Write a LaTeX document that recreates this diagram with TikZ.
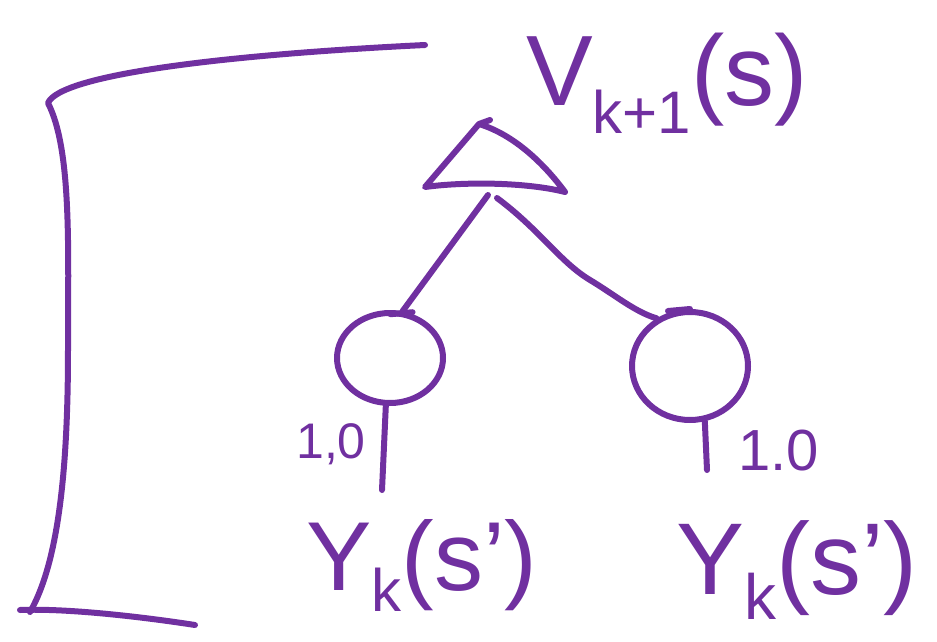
\documentclass[tikz,border=0pt]{standalone}
\usepackage{fontspec}
\setmainfont{Liberation Sans}
\usetikzlibrary{shapes.geometric}
\definecolor{ink}{HTML}{7030A0}
\tikzset{
  pen/.style={draw=ink, line width=6pt, line cap=round, line join=round},
  bubble/.style={pen, ellipse, inner sep=0pt},
  lbl/.style={text=ink, inner sep=0pt, anchor=base west},
}
\newcommand{\subk}[2]{\raisebox{#1}{\fontsize{#2}{#2}\selectfont k}}
\begin{document}
\begin{tikzpicture}[x=1pt,y=1pt]
\useasboundingbox (0,0) rectangle (937,-642);
% bracket
\coordinate (bt) at (425,-45);
\coordinate (bc) at (48,-103);
\coordinate (bb) at (30,-612);
\coordinate (be) at (195,-625);
\draw[pen] (bt) .. controls (220,-55) and (60,-75) .. (bc)
  .. controls (72,-150) and (68,-250) .. (68,-350)
  .. controls (68,-460) and (60,-560) .. (bb);
\draw[pen] (20,-610) .. controls (70,-608) and (150,-618) .. (be);
% triangle
\coordinate (ta) at (479,-124);
\coordinate (tl) at (425,-187);
\coordinate (tr) at (565,-192);
\draw[pen] (ta) -- (tl) .. controls (470,-181) and (530,-183) .. (tr)
  .. controls (545,-165) and (515,-135) .. (ta) -- (490,-120);
\coordinate (tbl) at (488,-195);
\coordinate (tbr) at (497,-198);
% circles
\node[bubble, minimum width=106pt, minimum height=90pt] (c1) at (390,-358) {};
\node[bubble, minimum width=116pt, minimum height=108pt] (c2) at (690,-366) {};
% connectors
\draw[pen] (tbl) -- (c1.75);
\draw[pen] (c1.75) ++(-12,-3) -- ++(22,2);
\draw[pen] (tbr) .. controls (540,-230) and (560,-262) .. (590,-280)
  .. controls (615,-295) and (635,-312) .. (c2.125);
\draw[pen] (c2.north) ++(-22,-2) -- ++(22,2);
\coordinate (s1) at (382,-490);
\coordinate (s2) at (707,-470);
\draw[pen] (c1.265) -- (s1);
\draw[pen] (c2.285) -- (s2);
% labels
\node[lbl, font=\fontsize{100}{100}\selectfont] (vtop) at (526,-106)
  {V\raisebox{-0.28em}{\fontsize{60}{60}\selectfont k+1}(s)};
\node[lbl, font=\fontsize{50}{50}\selectfont] (w1) at (296,-458) {1,0};
\node[lbl, font=\fontsize{58}{58}\selectfont] (w2) at (738,-470) {1.0};
\node[lbl, font=\fontsize{98}{98}\selectfont] (y1) at (306,-590)
  {Y\subk{-0.22em}{60}(s')};
\node[lbl, font=\fontsize{102}{102}\selectfont] (y2) at (676,-594)
  {Y\subk{-0.25em}{64}(s')};
\end{tikzpicture}
\end{document}
